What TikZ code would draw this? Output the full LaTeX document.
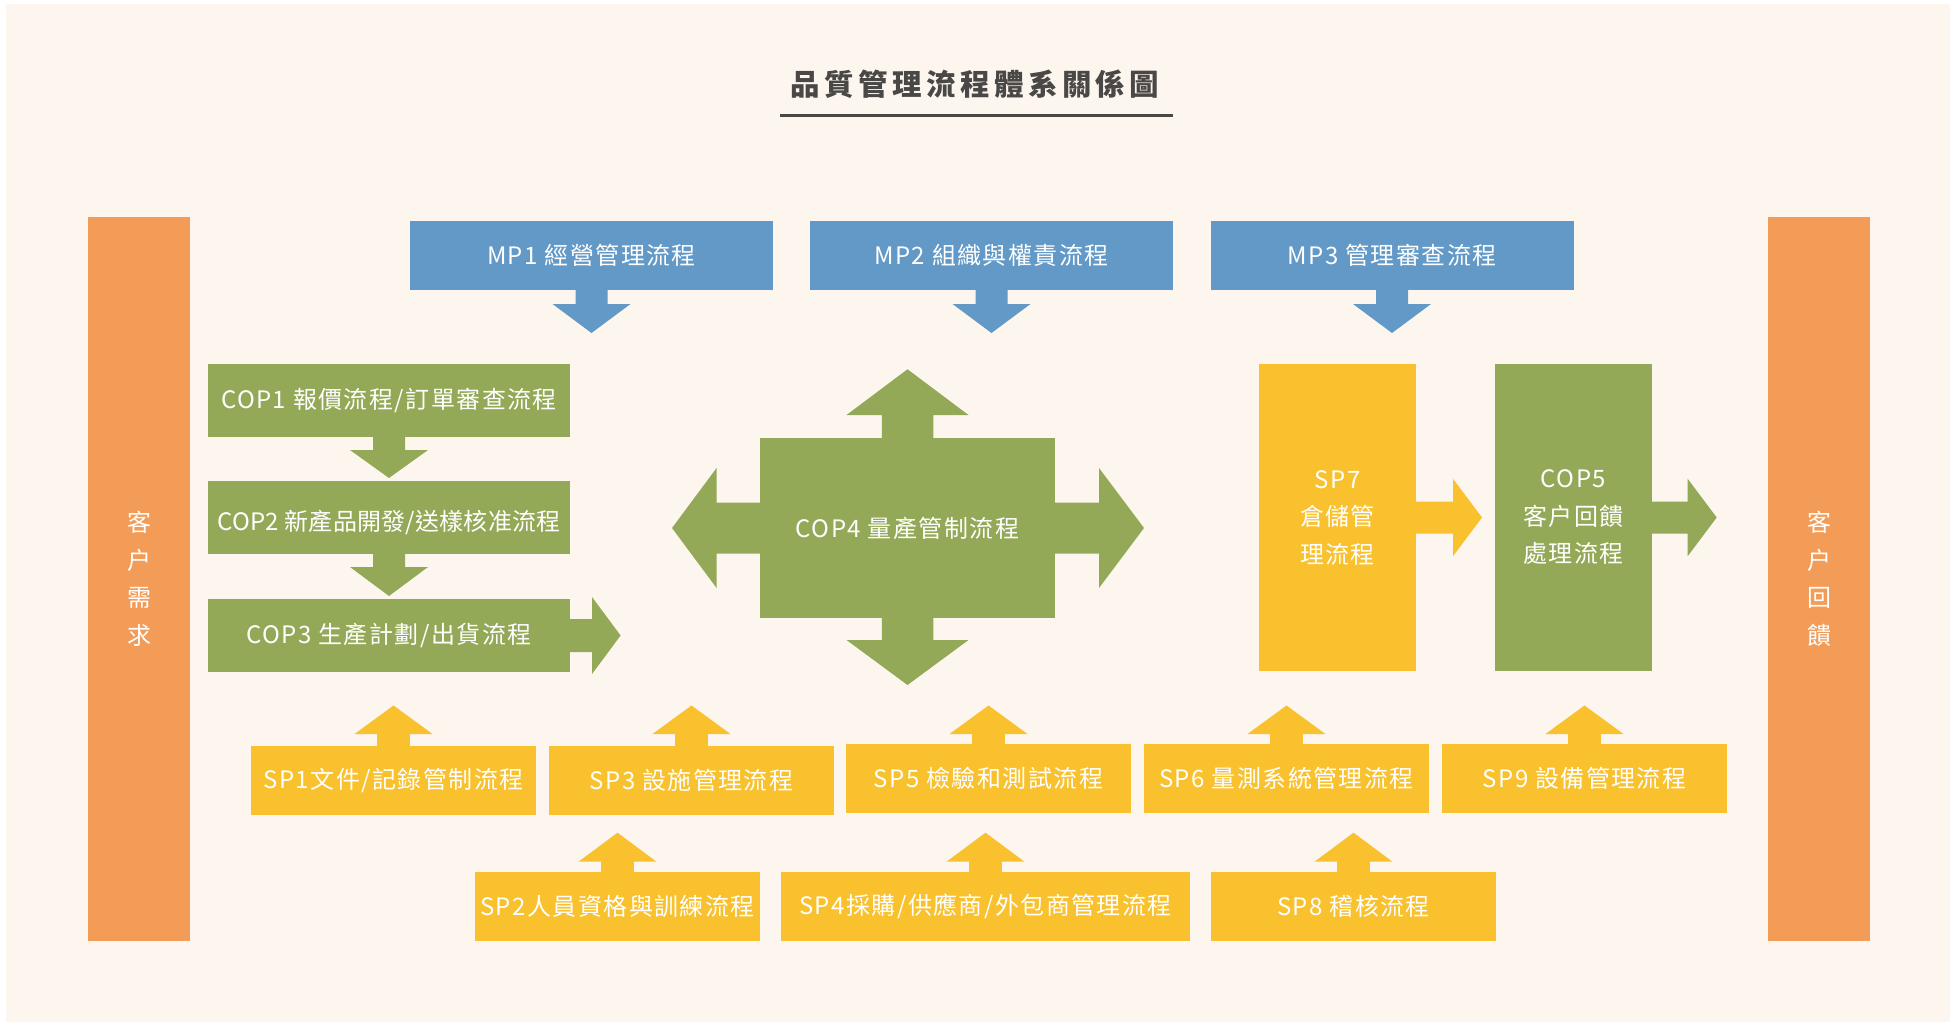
\documentclass[tikz,border=0pt]{standalone}
\usepackage{fontspec}
\setmainfont[LetterSpace=6]{Noto Sans CJK TC}
\newfontfamily\titlefont[LetterSpace=15]{Noto Sans CJK TC}
\newfontfamily\tightfont[LetterSpace=1]{Noto Sans CJK TC}
\usetikzlibrary{calc}
\definecolor{bgc}{HTML}{FDF6EF}
\definecolor{blu}{HTML}{6399C7}
\definecolor{grn}{HTML}{93A957}
\definecolor{ylw}{HTML}{F9C12D}
\definecolor{org}{HTML}{F39C58}
\definecolor{ttl}{HTML}{4A4846}
\tikzset{
  blk/.style={rectangle, inner sep=0pt, outer sep=0pt, text=white,
    font=\fontsize{12pt}{13pt}\selectfont},
  sz/.style 2 args={minimum width=#1*0.5pt, minimum height=#2*0.5pt},
  multi/.style={align=center, font=\fontsize{12pt}{18.75pt}\selectfont}
}
% block arrows: #1 colour, #2 start point, #3 stem half width, #4 stem length, #5 head half width, #6 head length
\newcommand{\arrowDn}[6]{\fill[#1] ($#2+(-#3,-1)$) -- ($#2+(-#3,#4)$) -- ($#2+(-#5,#4)$) -- ($#2+(0,#4+#6)$) -- ($#2+(#5,#4)$) -- ($#2+(#3,#4)$) -- ($#2+(#3,-1)$) -- cycle;}
\newcommand{\arrowUp}[6]{\fill[#1] ($#2+(-#3,1)$) -- ($#2+(-#3,-#4)$) -- ($#2+(-#5,-#4)$) -- ($#2+(0,-#4-#6)$) -- ($#2+(#5,-#4)$) -- ($#2+(#3,-#4)$) -- ($#2+(#3,1)$) -- cycle;}
\newcommand{\arrowRt}[6]{\fill[#1] ($#2+(-1,-#3)$) -- ($#2+(#4,-#3)$) -- ($#2+(#4,-#5)$) -- ($#2+(#4+#6,0)$) -- ($#2+(#4,#5)$) -- ($#2+(#4,#3)$) -- ($#2+(-1,#3)$) -- cycle;}
\newcommand{\arrowLt}[6]{\fill[#1] ($#2+(1,-#3)$) -- ($#2+(-#4,-#3)$) -- ($#2+(-#4,-#5)$) -- ($#2+(-#4-#6,0)$) -- ($#2+(-#4,#5)$) -- ($#2+(-#4,#3)$) -- ($#2+(1,#3)$) -- cycle;}
\begin{document}
\begin{tikzpicture}[x=0.5pt,y=-0.5pt]
\useasboundingbox (0,0) rectangle (1955,1022);
\fill[white] (0,0) rectangle (1955,1022);
\fill[bgc] (6,4) rectangle (1950,1022);

% title
\node[font=\titlefont\bfseries\fontsize{14.75pt}{16pt}\selectfont, text=ttl, inner sep=0pt] (title) at (975,84) {品質管理流程體系關係圖};
\fill[ttl] (780,114) rectangle (1173,117);

% side bars
\node[blk, fill=org, sz={102}{724}, multi] (lbar) at (139,579) {客\\户\\需\\求};
\node[blk, fill=org, sz={102}{724}, multi] (rbar) at (1819,579) {客\\户\\回\\饋};

% MP row
\node[blk, fill=blu, sz={363}{69}] (mp1) at (591.5,255.5) {MP1 經營管理流程};
\node[blk, fill=blu, sz={363}{69}] (mp2) at (991.5,255.5) {MP2 組織與權責流程};
\node[blk, fill=blu, sz={363}{69}] (mp3) at (1392,255.5) {MP3 管理審查流程};
\arrowDn{blu}{(mp1.south)}{16}{14}{39}{29}
\arrowDn{blu}{(mp2.south)}{16}{14}{39}{29}
\arrowDn{blu}{(mp3.south)}{16}{14}{39}{29}

% COP1-3
\node[blk, fill=grn, sz={362}{73}] (cop1) at (389,400.5) {COP1 報價流程/訂單審查流程};
\node[blk, fill=grn, sz={362}{73}, font=\tightfont\fontsize{12pt}{13pt}\selectfont, text height=14.6pt, text depth=1.4pt] (cop2) at (389,517.5) {COP2 新產品開發/送樣核准流程};
\node[blk, fill=grn, sz={362}{73}] (cop3) at (389,635.5) {COP3 生產計劃/出貨流程};
\arrowDn{grn}{(cop1.south)}{16}{13}{39}{28}
\arrowDn{grn}{(cop2.south)}{16}{13}{39}{29}
\arrowRt{grn}{(cop3.east)}{16.5}{22}{38.5}{28.6}

% COP4
\node[blk, fill=grn, sz={295}{180}] (cop4) at (907.5,528) {COP4 量產管制流程};
\arrowUp{grn}{(cop4.north)}{25.75}{23}{61}{45.7}
\arrowDn{grn}{(cop4.south)}{25.75}{22}{61}{45}
\arrowLt{grn}{(cop4.west)}{25.5}{43.4}{60}{44.6}
\arrowRt{grn}{(cop4.east)}{25.5}{44}{60}{45}

% SP7 and COP5
\node[blk, fill=ylw, sz={157}{307}, multi] (sp7) at (1337.5,517.5) {SP7\\倉儲管\\理流程};
\node[blk, fill=grn, sz={157}{307}, multi] (cop5) at (1573.5,517.5) {COP5\\客户回饋\\處理流程};
\arrowRt{ylw}{(sp7.east)}{16}{37}{38.7}{29}
\arrowRt{grn}{(cop5.east)}{16}{35.7}{38.7}{29}

% SP row 1
\node[blk, fill=ylw, sz={285}{69}] (sp1) at (393.5,780.5) {SP1文件/記錄管制流程};
\node[blk, fill=ylw, sz={285}{69}] (sp3) at (691.5,780.5) {SP3 設施管理流程};
\node[blk, fill=ylw, sz={285}{69}] (sp5) at (988.5,778.5) {SP5 檢驗和測試流程};
\node[blk, fill=ylw, sz={285}{69}] (sp6) at (1286.5,778.5) {SP6 量測系統管理流程};
\node[blk, fill=ylw, sz={285}{69}] (sp9) at (1584.5,778.5) {SP9 設備管理流程};
\arrowUp{ylw}{(sp1.north)}{16.4}{12}{39}{28.5}
\arrowUp{ylw}{(sp3.north)}{16.4}{12}{39}{28.5}
\arrowUp{ylw}{(sp5.north)}{16.4}{10}{39}{28.5}
\arrowUp{ylw}{(sp6.north)}{16.4}{10}{39}{28.5}
\arrowUp{ylw}{(sp9.north)}{16.4}{10}{39}{28.5}

% SP row 2
\node[blk, fill=ylw, sz={285}{69}] (sp2) at (617.5,906.5) {SP2人員資格與訓練流程};
\node[blk, fill=ylw, sz={409}{69}] (sp4) at (985.5,906.5) {SP4採購/供應商/外包商管理流程};
\node[blk, fill=ylw, sz={285}{69}] (sp8) at (1353.5,906.5) {SP8 稽核流程};
\arrowUp{ylw}{(sp2.north)}{16.4}{10.3}{39}{29}
\arrowUp{ylw}{(sp4.north)}{16.4}{10.3}{39}{29}
\arrowUp{ylw}{(sp8.north)}{16.4}{10.3}{39}{29}
\end{tikzpicture}
\end{document}
